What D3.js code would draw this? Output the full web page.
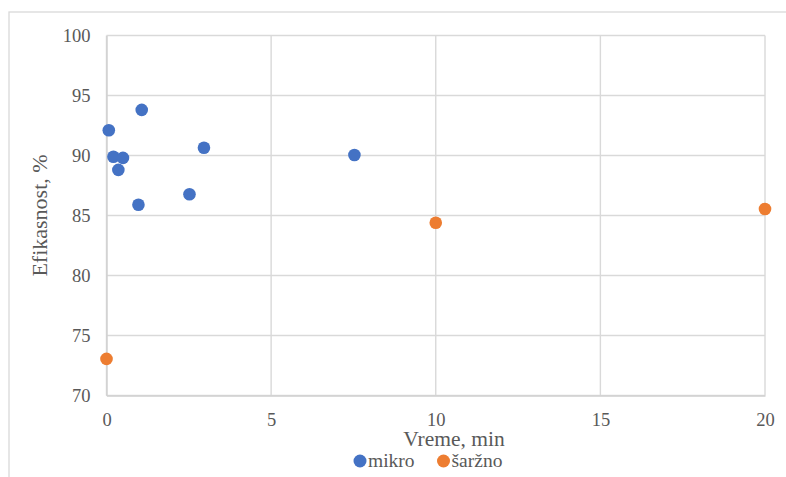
<!DOCTYPE html>
<html><head><meta charset="utf-8">
<script src="https://cdn.jsdelivr.net/npm/d3@7"></script>
<style>body{margin:0;background:#fff}svg{display:block}text{font-family:"Liberation Serif","Times New Roman",serif;fill:#595959}</style>
</head><body><div id="c"></div>
<script>
const mikroX = [0.07, 1.07, 0.21, 0.5, 0.36, 2.96, 2.52, 0.97, 7.53];
const mikroY = [92.1, 93.8, 89.9, 89.8, 88.8, 90.65, 86.77, 85.9, 90.04];
const sarznoX = [0, 10, 20];
const sarznoY = [73.05, 84.4, 85.54];
const xTicks = [0, 5, 10, 15, 20];
const yTicks = [70, 75, 80, 85, 90, 95, 100];
const seriesNames = ["mikro", "šaržno"];
const colors = ["#4472C4", "#ED7D31"];

const W = 786, H = 477;
const svg = d3.select("#c").append("svg").attr("width", W).attr("height", H);
svg.append("rect").attr("x", 9).attr("y", 12).attr("width", 800).attr("height", 500)
  .attr("fill", "#fff").attr("stroke", "#D9D9D9").attr("stroke-width", 1.3);

const x = d3.scaleLinear().domain([0, 20]).range([106.5, 765]);
const y = d3.scaleLinear().domain([70, 100]).range([395.5, 35.5]);

const grid = svg.append("g");
grid.selectAll(".vg").data(xTicks).join("line")
  .attr("x1", d => x(d)).attr("x2", d => x(d)).attr("y1", y(100)).attr("y2", y(70))
  .attr("stroke", "#D9D9D9").attr("stroke-width", 1.4);
grid.selectAll(".hg").data(yTicks).join("line")
  .attr("x1", x(0)).attr("x2", x(20)).attr("y1", d => y(d)).attr("y2", d => y(d))
  .attr("stroke", "#D9D9D9").attr("stroke-width", 1.4);

const xAxis = svg.append("g").attr("transform", `translate(0,${y(70)})`)
  .call(d3.axisBottom(x).tickValues(xTicks).tickSize(0).tickPadding(17));
xAxis.select(".domain").attr("stroke", "#D0D0D0").attr("stroke-width", 1.4);
xAxis.selectAll("text").attr("font-size", 18.5).attr("fill", "#595959").attr("font-family", "Liberation Serif");

const yAxis = svg.append("g").attr("transform", `translate(${x(0)},0)`)
  .call(d3.axisLeft(y).tickValues(yTicks).tickSize(0).tickPadding(16));
yAxis.select(".domain").attr("stroke", "#D0D0D0").attr("stroke-width", 1.4);
yAxis.selectAll("text").attr("font-size", 18.5).attr("fill", "#595959").attr("font-family", "Liberation Serif");

const data = [
  mikroX.map((v, i) => ({x: v, y: mikroY[i]})),
  sarznoX.map((v, i) => ({x: v, y: sarznoY[i]}))
];
data.forEach((s, k) => {
  svg.append("g").selectAll("circle").data(s).join("circle")
    .attr("cx", d => x(d.x)).attr("cy", d => y(d.y)).attr("r", 6.3)
    .attr("fill", colors[k]);
});

svg.append("text").attr("x", 454).attr("y", 446).attr("text-anchor", "middle")
  .attr("font-size", 21.5).text("Vreme, min");
svg.append("text").attr("transform", `translate(47,${(y(100)+y(70))/2}) rotate(-90)`)
  .attr("text-anchor", "middle").attr("font-size", 22).text("Efikasnost, %");

const legX = [360, 443.5];
seriesNames.forEach((n, k) => {
  svg.append("circle").attr("cx", legX[k]).attr("cy", 461).attr("r", 6.5).attr("fill", colors[k]);
  svg.append("text").attr("x", legX[k] + 8).attr("y", 466.5).attr("font-size", 19.5).text(n);
});
</script></body></html>
